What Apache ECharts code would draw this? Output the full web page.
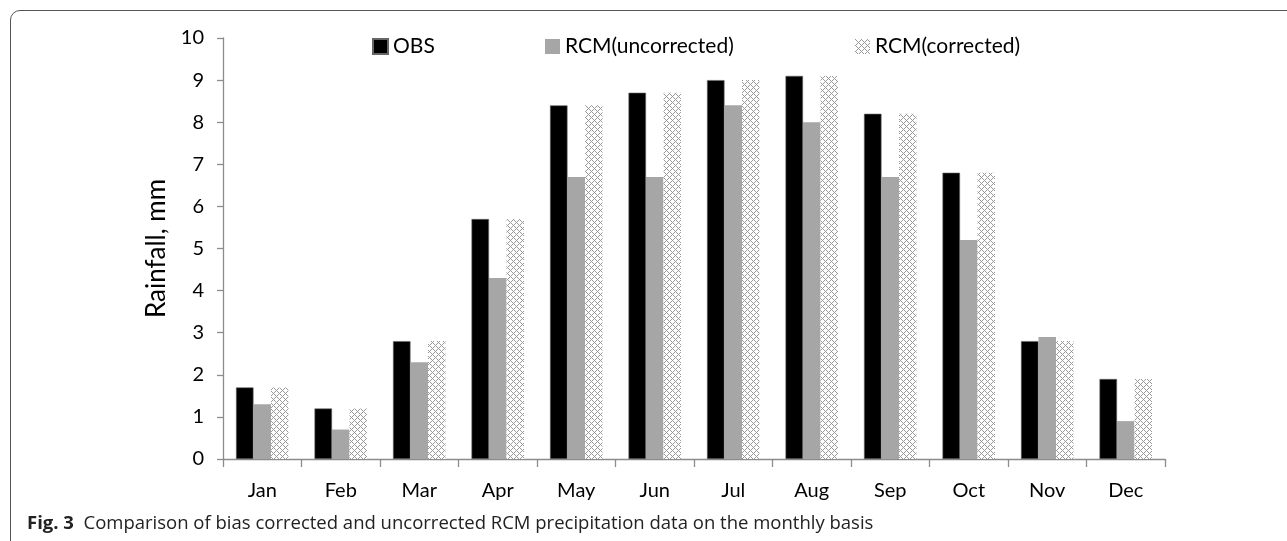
<!DOCTYPE html>
<html><head><meta charset="utf-8">
<script src="https://cdn.jsdelivr.net/npm/echarts@6/dist/echarts.min.js"></script>
<style>
html,body{margin:0;padding:0;background:#fff;overflow:hidden;}
#frame{position:absolute;left:10px;top:10px;width:1400px;height:700px;border:1.5px solid #555;border-radius:10px;box-sizing:border-box;}
#chart{position:absolute;left:0;top:0;width:1287px;height:541px;}
</style></head>
<body>
<div id="frame"></div>
<div id="chart"></div>
<script>
const months = ['Jan','Feb','Mar','Apr','May','Jun','Jul','Aug','Sep','Oct','Nov','Dec'];
const obs = [1.7,1.2,2.8,5.7,8.4,8.7,9.0,9.1,8.2,6.8,2.8,1.9];
const rcmUncorrected = [1.3,0.7,2.3,4.3,6.7,6.7,8.4,8.0,6.7,5.2,2.9,0.9];
const rcmCorrected = [1.7,1.2,2.8,5.7,8.4,8.7,9.0,9.1,8.2,6.8,2.8,1.9];
const yTicks = [0,1,2,3,4,5,6,7,8,9,10];

const tile = document.createElement('canvas');
tile.width = 6; tile.height = 6;
const c = tile.getContext('2d');
c.fillStyle = '#ffffff'; c.fillRect(0,0,6,6);
c.fillStyle = '#9a9a9a';
const pts = [[0,0],[1,1],[2,2],[3,3],[4,4],[5,5],[5,1],[4,2],[2,4],[1,5]];
pts.forEach(p=>c.fillRect(p[0],p[1],1,1));
const pattern = {image: tile, repeat: 'repeat'};

const font = 'Lato, "Open Sans", sans-serif';
const capFont = '"Open Sans", "Noto Sans", sans-serif';
const chart = echarts.init(document.getElementById('chart'), null, {renderer:'canvas'});
const legendBase = {top: 31, itemWidth: 15, itemHeight: 15, itemGap: 4,
  textStyle:{fontSize:21, color:'#000', fontFamily: font}, icon:'rect'};
chart.setOption({
  animation:false,
  title:{
    text:'{b|Fig. 3}  Comparison of bias corrected and uncorrected RCM precipitation data on the monthly basis',
    left: 22, top: 509,
    textStyle:{fontSize:18.5, fontWeight:'normal', color:'#222', fontFamily: capFont,
      rich:{b:{fontSize:18.5, fontWeight:'bold', color:'#222', fontFamily: capFont}}}
  },
  legend:[
    Object.assign({}, legendBase, {left: 367, data:['OBS']}),
    Object.assign({}, legendBase, {left: 540, data:['RCM(uncorrected)']}),
    Object.assign({}, legendBase, {left: 850, data:['RCM(corrected)']})
  ],
  grid:{left:223, right:122, top:38, bottom:82, containLabel:false},
  xAxis:{
    type:'category', data: months,
    axisLine:{lineStyle:{color:'#8c8c8c', width:1.3}},
    axisTick:{show:true, length:8, alignWithLabel:false, lineStyle:{color:'#8c8c8c', width:1.3}},
    axisLabel:{fontSize:20, color:'#000', fontFamily: font, margin:22}
  },
  yAxis:{
    type:'value', min:0, max:10, interval:1,
    name:'Rainfall, mm', nameLocation:'middle', nameGap:47,
    nameTextStyle:{fontSize:26, color:'#000', fontFamily: font},
    splitLine:{show:false},
    axisLine:{show:true, lineStyle:{color:'#8c8c8c', width:1.3}},
    axisTick:{show:true, length:6, lineStyle:{color:'#8c8c8c', width:1.3}},
    axisLabel:{fontSize:20, color:'#000', fontFamily: font, margin:19,
      formatter: v => yTicks.includes(v) ? String(v) : ''}
  },
  series:[
    {name:'OBS', type:'bar', data: obs, barWidth:17.5, barGap:'0%',
     itemStyle:{color:'#000', borderColor:'#666', borderWidth:0.6}},
    {name:'RCM(uncorrected)', type:'bar', data: rcmUncorrected, barWidth:17.5, barGap:'0%',
     itemStyle:{color:'#a6a6a6'}},
    {name:'RCM(corrected)', type:'bar', data: rcmCorrected, barWidth:17.5, barGap:'0%',
     itemStyle:{color: pattern}}
  ]
});
</script>
</body></html>
